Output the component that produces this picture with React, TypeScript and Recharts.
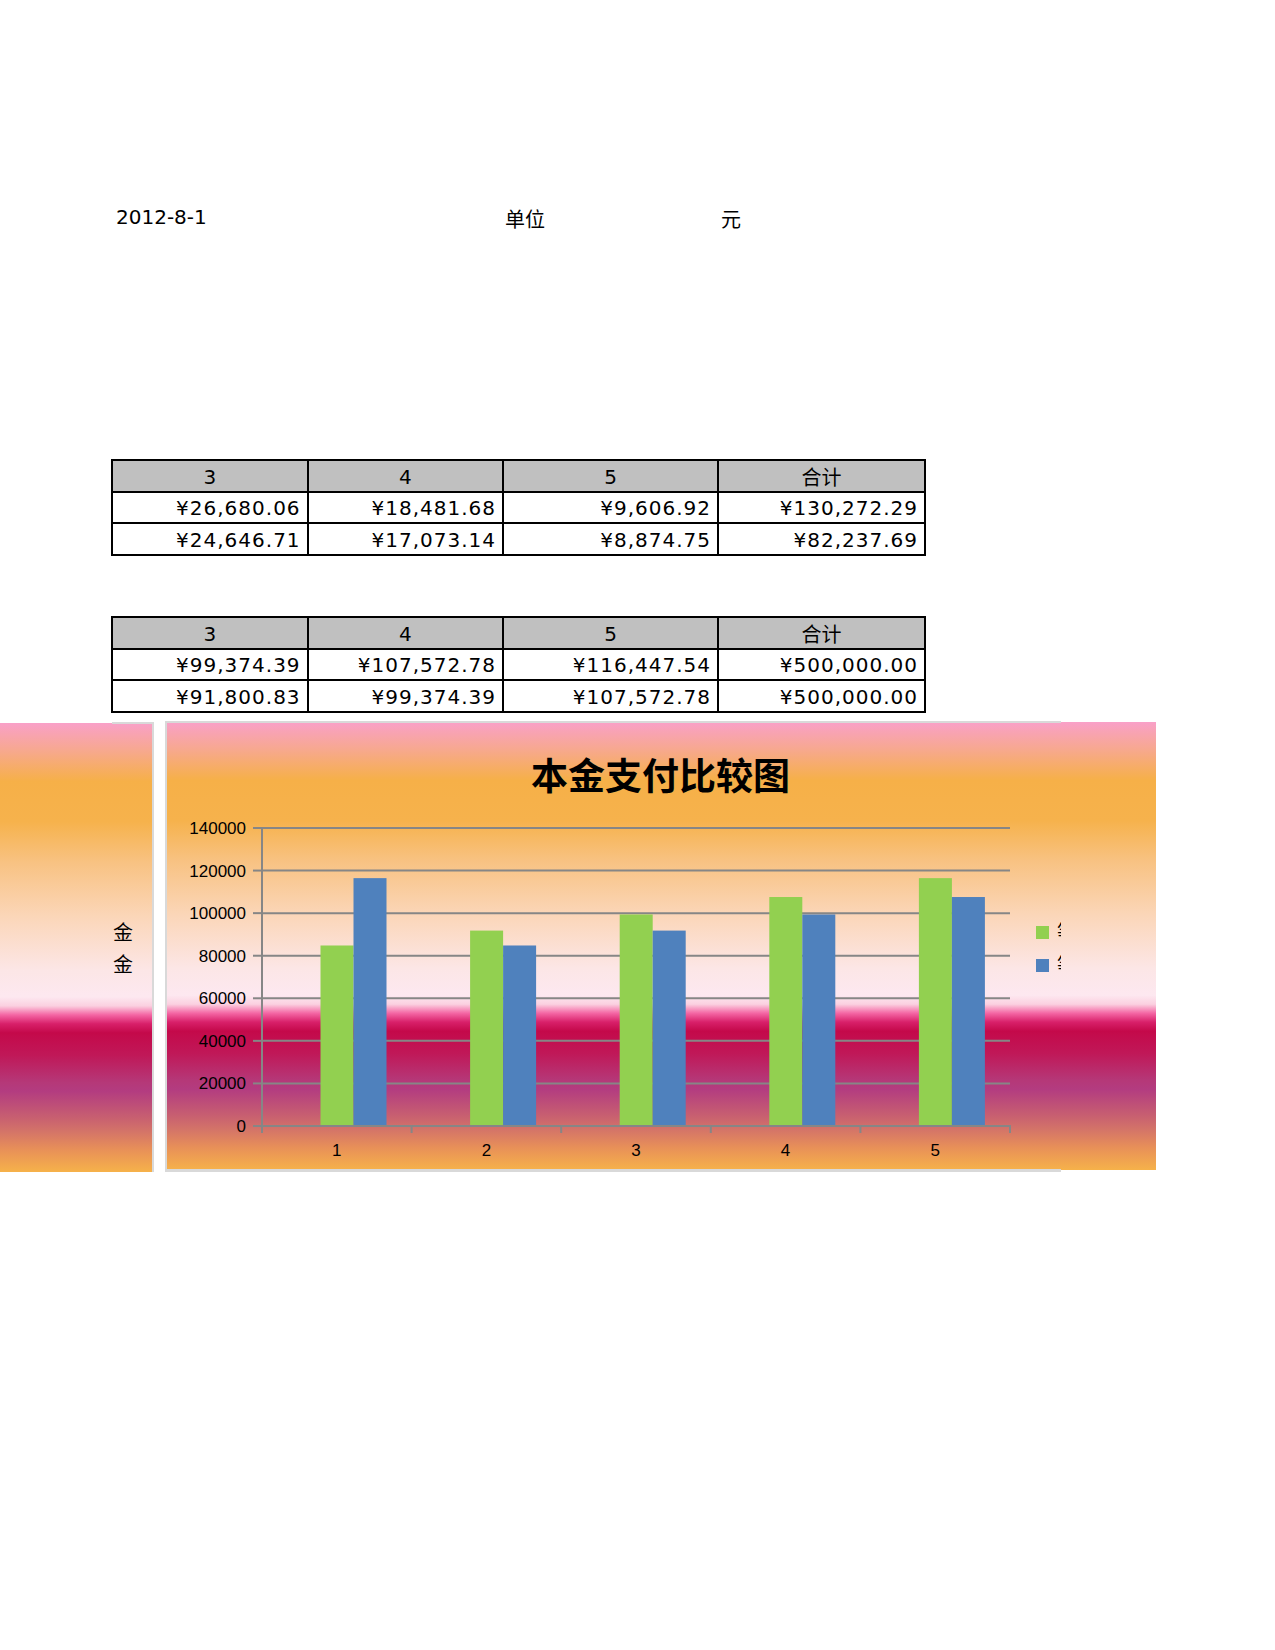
import React from 'react';
import { BarChart, Bar, XAxis, YAxis, CartesianGrid } from 'recharts';

// sheet header
const reportDate = '2012-8-1';
const unitLabel = '单位';
const unitValue = '元';

// tables above the chart
const tableHeaders = ['3', '4', '5', '合计'];
const interestRowA = ['¥26,680.06', '¥18,481.68', '¥9,606.92', '¥130,272.29'];
const interestRowB = ['¥24,646.71', '¥17,073.14', '¥8,874.75', '¥82,237.69'];
const principalRowA = ['¥99,374.39', '¥107,572.78', '¥116,447.54', '¥500,000.00'];
const principalRowB = ['¥91,800.83', '¥99,374.39', '¥107,572.78', '¥500,000.00'];

// chart
const chartTitle = '本金支付比较图';
const periods = ['1', '2', '3', '4', '5'];
const seriesGreen = [84804.46, 91800.83, 99374.39, 107572.78, 116447.54];
const seriesBlue = [116447.54, 84804.46, 91800.83, 99374.39, 107572.78];
const seriesNames = ['等额本息', '等额本金'];
const yTicks = [0, 20000, 40000, 60000, 80000, 100000, 120000, 140000];
const sideLabel = ['金', '金'];

const data = periods.map((p, i) => ({ name: p, green: seriesGreen[i], blue: seriesBlue[i] }));

const GREEN = '#92D050';
const BLUE = '#4F81BD';
const GRID = '#868686';
const BORDER = '#D9D9D9';

const CHART_W = 990;
const CHART_H = 448;
const Y_AXIS_W = 96;
const PLOT_W = 748;
const BAND = PLOT_W / periods.length;
const BAR_SHIFT = 16.5;

const GRADIENT =
  'linear-gradient(to bottom, #F9A0C8 0%, #F7A890 6%, #F6B048 13%, #F6B24C 22%, #F8C282 31%, #FBD6B8 43%, #FCE6E6 55%, #FDE8F0 61%, #FBD0E0 63%, #F466A4 65%, #D8206A 67%, #C4094A 69%, #C01858 74%, #B53878 80%, #B33C80 82%, #C86070 88%, #D47468 91%, #E89058 95%, #F6B24A 100%)';

const textFont = '"DejaVu Sans", "Noto Sans CJK SC", sans-serif';
const chartFont = '"Liberation Sans", Arial, sans-serif';

const COL_X = [112, 307.6, 503, 718, 925];
const ROW_H = 31.5;

const ShiftedBar = (props: any) => {
  const { x, y, width, height, fill } = props;
  if (!height || height <= 0) return null;
  return <rect x={x + BAR_SHIFT} y={y} width={width} height={height} fill={fill} />;
};

const XTick = (props: any) => {
  const { x, y, payload, index } = props;
  const axisY = y - 19;
  const left = x - BAND / 2;
  return (
    <g>
      <line x1={left} y1={axisY} x2={left} y2={axisY + 8} stroke={GRID} strokeWidth={2} />
      {index === periods.length - 1 && (
        <line x1={x + BAND / 2} y1={axisY} x2={x + BAND / 2} y2={axisY + 8} stroke={GRID} strokeWidth={2} />
      )}
      <text x={x} y={y} dy="0.71em" textAnchor="middle" fill="#000" fontSize={17} fontFamily={chartFont}>
        {payload.value}
      </text>
    </g>
  );
};

const Table = ({ top, rows }: { top: number; rows: string[][] }) => {
  const all = [tableHeaders, ...rows];
  const width = COL_X[COL_X.length - 1] - COL_X[0];
  const height = ROW_H * all.length;
  return (
    <>
      <div style={{ position: 'absolute', left: COL_X[0], top, width, height: ROW_H, background: '#C0C0C0' }} />
      {all.map((row, r) =>
        row.map((val, c) => {
          const isHead = r === 0;
          return (
            <div
              key={`${r}-${c}`}
              style={{
                position: 'absolute',
                left: COL_X[c],
                top: top + r * ROW_H,
                width: COL_X[c + 1] - COL_X[c],
                height: ROW_H,
                boxSizing: 'border-box',
                display: 'flex',
                alignItems: 'center',
                justifyContent: isHead ? 'center' : 'flex-end',
                paddingRight: isHead ? 0 : 7,
                paddingTop: 2,
                fontFamily: textFont,
                fontSize: 20,
                letterSpacing: isHead ? 0 : 1,
                color: '#000',
                whiteSpace: 'nowrap',
              }}
            >
              {val}
            </div>
          );
        })
      )}
      {all.concat([[]]).map((_, r) => (
        <div key={`h${r}`} style={{ position: 'absolute', left: COL_X[0] - 1, top: top + r * ROW_H - 1, width: width + 2, height: 2, background: '#000' }} />
      ))}
      {COL_X.map((x, c) => (
        <div key={`v${c}`} style={{ position: 'absolute', left: x - 1, top: top - 1, width: 2, height: height + 2, background: '#000' }} />
      ))}
    </>
  );
};

export default function App() {
  return (
    <div style={{ position: 'absolute', left: 0, top: 0, width: 1275, height: 1650, background: '#fff', overflow: 'hidden' }}>
      {/* header line */}
      <div style={{ position: 'absolute', left: 116, top: 205, fontFamily: textFont, fontSize: 20 }}>{reportDate}</div>
      <div style={{ position: 'absolute', left: 505, top: 204, fontFamily: textFont, fontSize: 20 }}>{unitLabel}</div>
      <div style={{ position: 'absolute', left: 721, top: 204, fontFamily: textFont, fontSize: 20 }}>{unitValue}</div>

      <Table top={460} rows={[interestRowA, interestRowB]} />
      <Table top={617} rows={[principalRowA, principalRowB]} />

      {/* left side panel */}
      <div style={{ position: 'absolute', left: 0, top: 723, width: 152, height: 449, background: GRADIENT }} />
      <div style={{ position: 'absolute', left: 152, top: 723, width: 2, height: 449, background: BORDER }} />
      <div style={{ position: 'absolute', left: 112, top: 722, width: 42, height: 2, background: BORDER }} />
      {sideLabel.map((ch, i) => (
        <div
          key={i}
          style={{ position: 'absolute', left: 113, top: 920 + i * 32, width: 20, fontSize: 20, lineHeight: '24px', fontFamily: '"Noto Sans CJK SC", sans-serif', textAlign: 'center' }}
        >
          {ch}
        </div>
      ))}

      {/* chart area */}
      <div style={{ position: 'absolute', left: 166, top: 722, width: CHART_W, height: CHART_H, background: GRADIENT }}>
        <BarChart
          width={CHART_W}
          height={CHART_H}
          data={data}
          margin={{ top: 106, right: CHART_W - Y_AXIS_W - PLOT_W, bottom: 0, left: 0 }}
          barSize={33}
          barGap={0}
        >
          <CartesianGrid vertical={false} stroke={GRID} strokeWidth={2} />
          <XAxis
            dataKey="name"
            height={44}
            axisLine={{ stroke: GRID, strokeWidth: 2 }}
            tickLine={{ stroke: 'none' }}
            tickSize={8}
            tickMargin={10}
            tick={<XTick />}
            interval={0}
          />
          <YAxis
            width={Y_AXIS_W}
            domain={[0, 140000]}
            ticks={yTicks}
            interval={0}
            axisLine={{ stroke: GRID, strokeWidth: 2 }}
            tickLine={{ stroke: GRID, strokeWidth: 2 }}
            tickSize={9}
            tickMargin={7}
            tick={{ fill: '#000', fontSize: 17, fontFamily: chartFont }}
          />
          <Bar dataKey="green" fill={GREEN} shape={<ShiftedBar />} isAnimationActive={false} />
          <Bar dataKey="blue" fill={BLUE} shape={<ShiftedBar />} isAnimationActive={false} />
        </BarChart>

        <div
          style={{
            position: 'absolute',
            left: 365,
            top: 31,
            fontFamily: '"Noto Sans CJK SC", sans-serif',
            fontWeight: 700,
            fontSize: 37,
            lineHeight: '42px',
            whiteSpace: 'nowrap',
          }}
        >
          {chartTitle}
        </div>

        {/* legend, clipped at the chart frame as in the original */}
        <div style={{ position: 'absolute', left: 870, top: 198, width: 25, height: 60, overflow: 'hidden' }}>
          {seriesNames.map((n, i) => (
            <div key={n} style={{ position: 'absolute', left: 0, top: i * 33 }}>
              <div style={{ position: 'absolute', left: 0, top: 6, width: 13, height: 13, background: i === 0 ? GREEN : BLUE }} />
              <div style={{ position: 'absolute', left: 21, top: 0, fontSize: 20, lineHeight: '24px', whiteSpace: 'nowrap', fontFamily: '"Noto Sans CJK SC", sans-serif' }}>{n}</div>
            </div>
          ))}
        </div>
      </div>

      {/* chart frame, drawn only as far as the original object */}
      <div style={{ position: 'absolute', left: 166, top: 721, width: 895, height: 2, background: BORDER }} />
      <div style={{ position: 'absolute', left: 165, top: 721, width: 2, height: 451, background: BORDER }} />
      <div style={{ position: 'absolute', left: 166, top: 1169, width: 895, height: 3, background: BORDER }} />
    </div>
  );
}
